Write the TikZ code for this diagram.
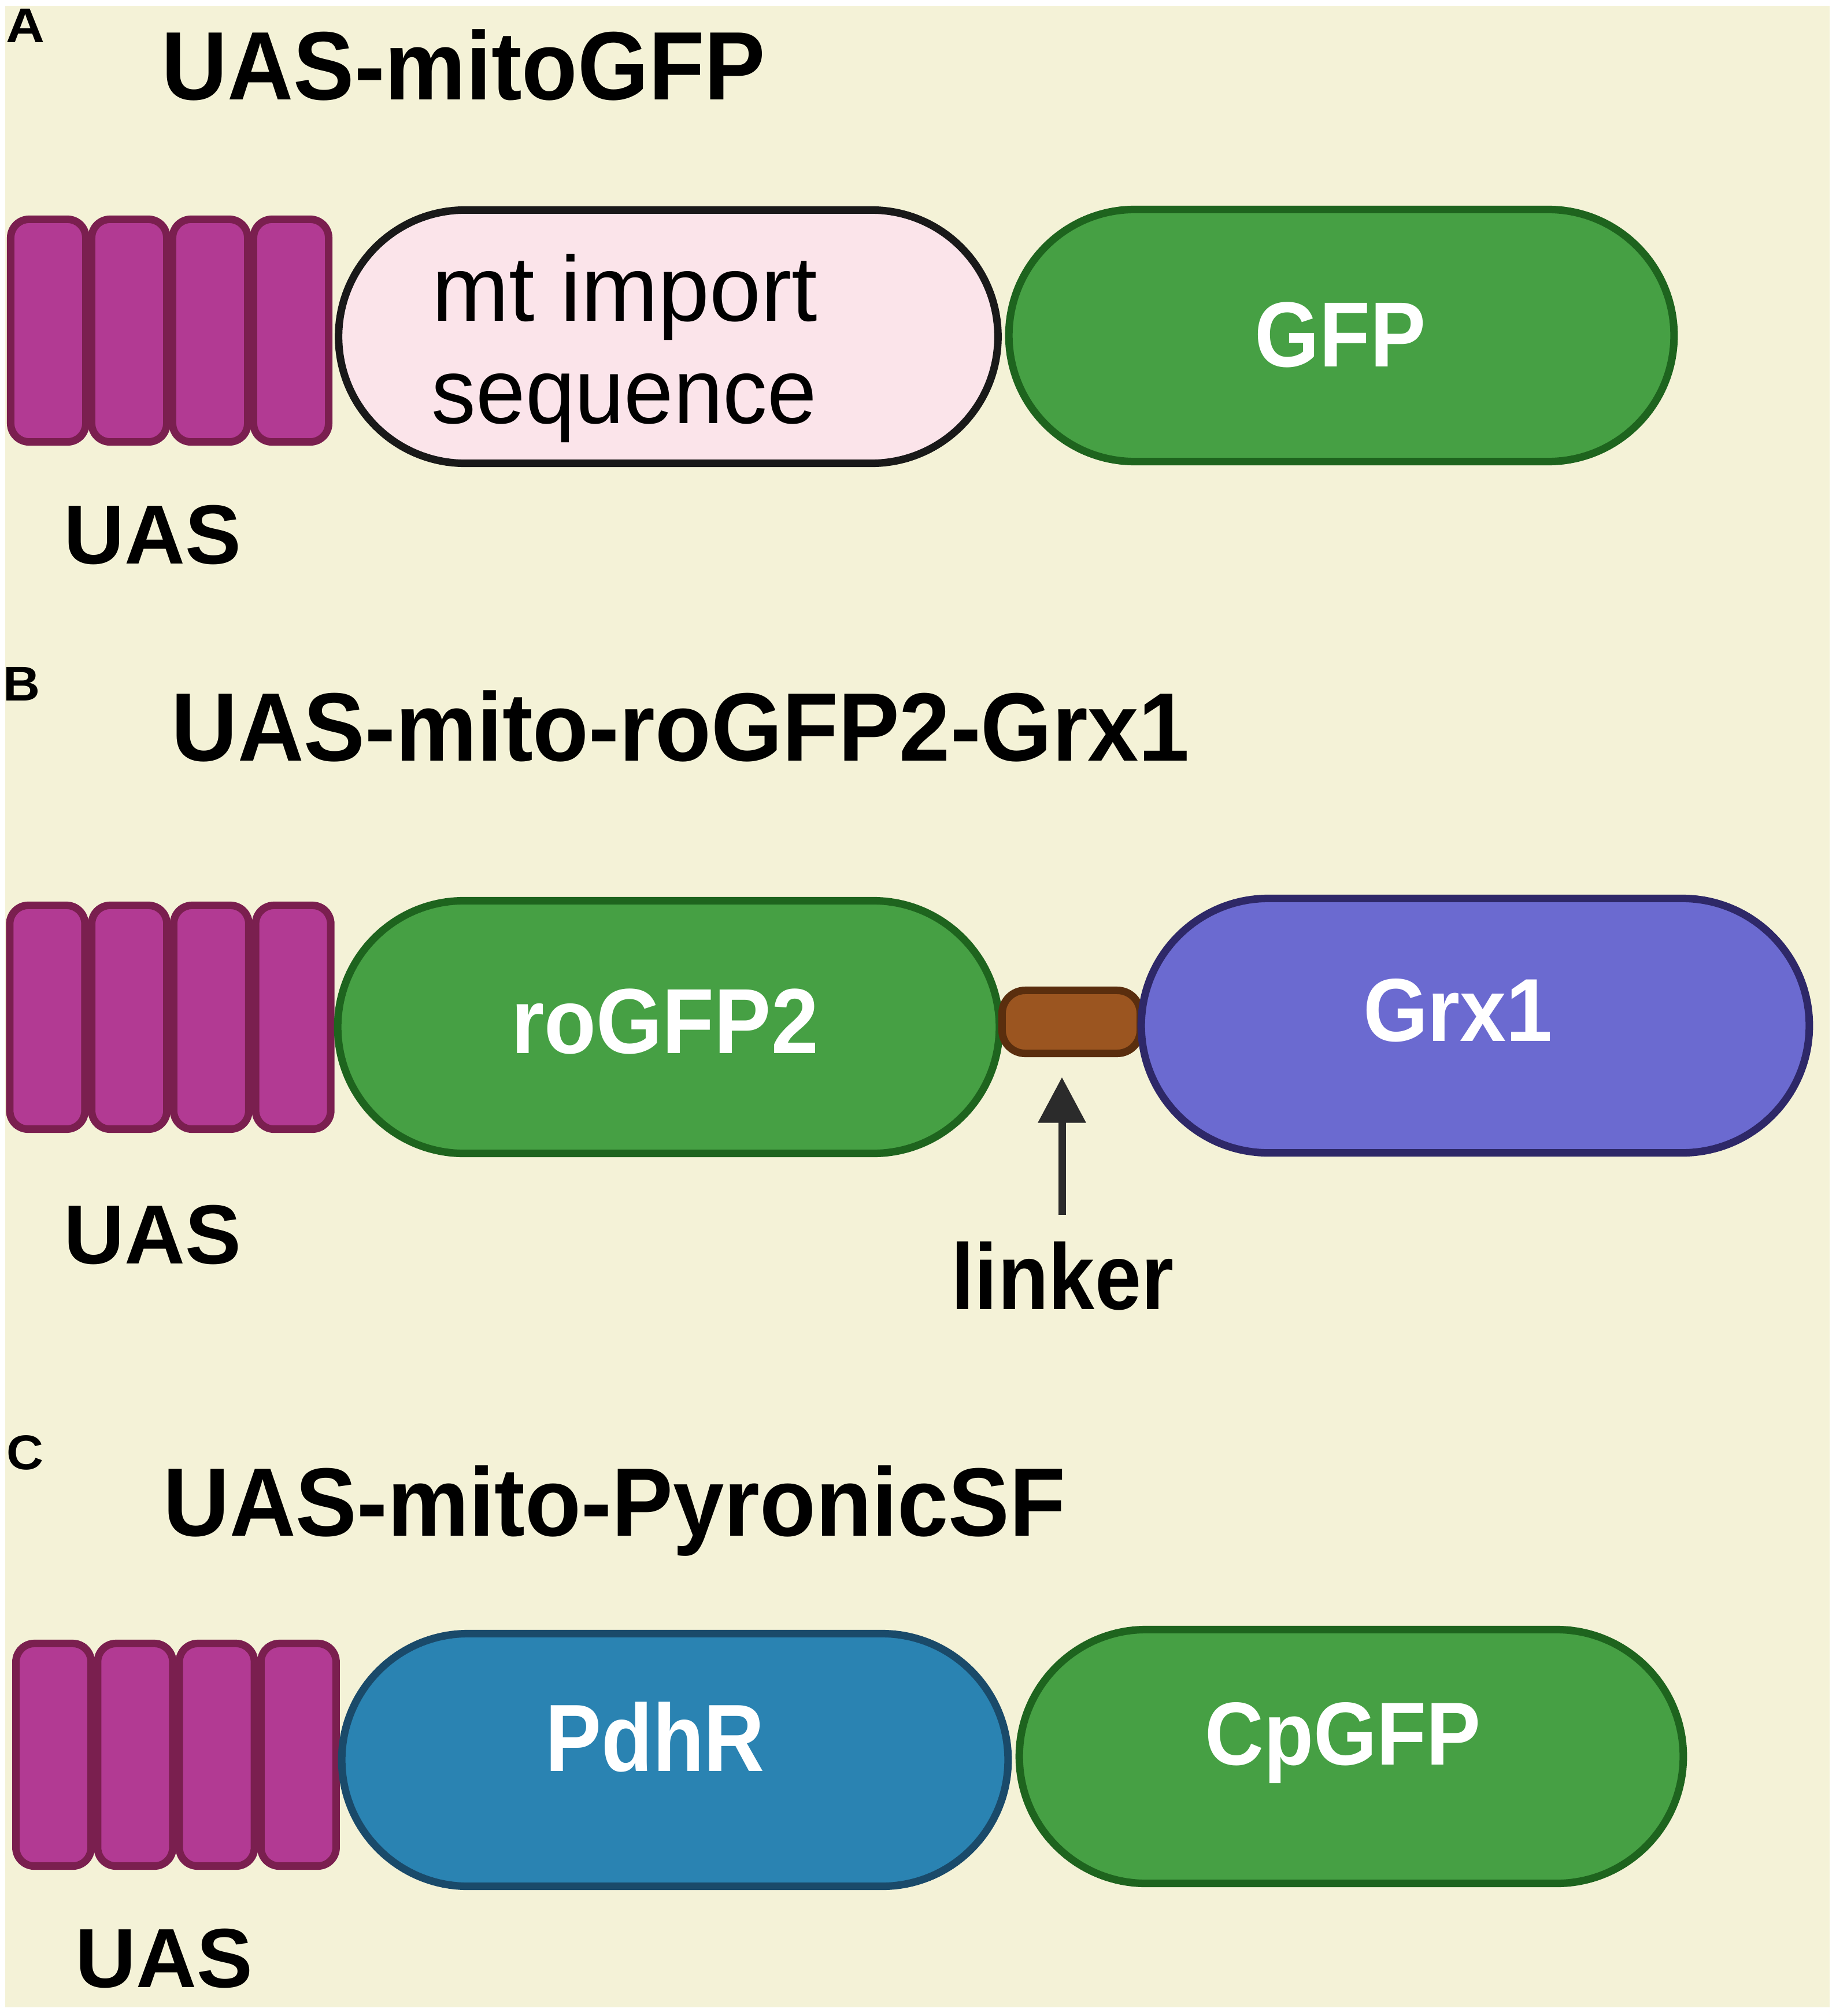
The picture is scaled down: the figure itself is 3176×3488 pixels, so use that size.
\documentclass[tikz,border=0pt]{standalone}
\usepackage{fontspec}
\setmainfont{Liberation Sans}
\usetikzlibrary{shapes.misc,arrows.meta}
\definecolor{cream}{HTML}{F4F2D7}
\definecolor{uasfill}{HTML}{B23A93}
\definecolor{uasline}{HTML}{7A1F4F}
\definecolor{pinkfill}{HTML}{FBE4EA}
\definecolor{gfill}{HTML}{46A044}
\definecolor{gline}{HTML}{1E641E}
\definecolor{pfill}{HTML}{6B6AD0}
\definecolor{pline}{HTML}{2E2868}
\definecolor{bfill}{HTML}{2A83B2}
\definecolor{bline}{HTML}{1A4A6A}
\definecolor{lfill}{HTML}{9B5520}
\definecolor{lline}{HTML}{5A2E0E}
\definecolor{arrowc}{HTML}{2B2B2B}
\newcommand{\myfs}[1]{\fontsize{#1}{#1}\selectfont}
\begin{document}
\begin{tikzpicture}[x=0.01cm,y=-0.01cm,
  uasblk/.style={draw=uasline, fill=uasfill, line width=3.7pt, rounded corners=0.32cm,
    minimum width=1.30cm, minimum height=3.85cm, inner sep=0pt},
  part/.style={rounded rectangle, line width=3.7pt, inner sep=0pt},
  ttl/.style={anchor=base west, inner sep=0pt, font=\myfs{47.8}\bfseries},
  panellbl/.style={anchor=base west, inner sep=0pt, font=\myfs{24}\bfseries},
  uaslbl/.style={anchor=base west, inner sep=0pt, font=\myfs{41.3}\bfseries},
  inlbl/.style={anchor=base, inner sep=0pt, text=white, font=\bfseries},
]
\path[use as bounding box, fill=white] (0,0) rectangle (3176,3488);
\fill[cream] (9,10) rectangle (3165,3473);

% ---------- Panel A ----------
\node[panellbl] (labA) at (10,74) {\scalebox{1.1}[1]{A}};
\node[ttl] (ttlA) at (279,173) {\scalebox{0.94}[1]{UAS-mitoGFP}};
\foreach \i in {0,...,3}
  \node[uasblk] (uasA\i) at ({83.5+140*\i},572) {};
\node[part, draw=black!90, fill=pinkfill, minimum width=11.40cm, minimum height=4.38cm] (mtA) at (1156,582.5) {};
\node[part, draw=gline, fill=gfill, minimum width=11.50cm, minimum height=4.36cm] (gfpA) at (2320.5,580.5) {};
\node[anchor=base, inner sep=0pt, font=\myfs{45.5}] (mtA1) at (1081,555) {mt import};
\node[anchor=base, inner sep=0pt, font=\myfs{45.5}] (mtA2) at (1080,732) {\scalebox{0.96}[1]{sequence}};
\node[inlbl, font=\myfs{45.5}\bfseries] (gfpAt) at (2318,634) {\scalebox{0.9}[1]{GFP}};
\node[uaslbl] (uasAt) at (110,975) {UAS};

% ---------- Panel B ----------
\node[panellbl] (labB) at (5,1212) {\scalebox{1.05}[1]{B}};
\node[ttl] (ttlB) at (296,1316) {\scalebox{0.943}[1]{UAS-mito-roGFP2-Grx1}};
\foreach \i in {0,...,3}
  \node[uasblk, minimum height=3.87cm] (uasB\i) at ({81.9+141.75*\i},1760) {};
\node[part, draw=gline, fill=gfill, minimum width=11.44cm, minimum height=4.37cm] (rogB) at (1156.5,1777) {};
\node[draw=lline, fill=lfill, line width=3.7pt, rounded corners=0.4cm, inner sep=0pt,
  minimum width=2.39cm, minimum height=1.09cm] (linkB) at (1853,1768) {};
\node[part, draw=pline, fill=pfill, minimum width=11.55cm, minimum height=4.40cm] (grxB) at (2552,1774.5) {};
\node[inlbl, font=\myfs{45.5}\bfseries] (rogBt) at (1150,1822) {\scalebox{0.92}[1]{roGFP2}};
\node[inlbl, font=\myfs{44}\bfseries] (grxBt) at (2522,1801) {\scalebox{0.93}[1]{Grx1}};
\coordinate (arrtail) at (1837,2102);
\draw[arrowc, line width=3.7pt, shorten >=0.345cm, -{Triangle[length=0.79cm,width=0.8cm]}]
  (arrtail) -- (arrtail |- linkB.south);
\node[anchor=base, inner sep=0pt, font=\myfs{46}\bfseries] (linkt) at (1838,2265) {\scalebox{0.89}[1]{linker}};
\node[uaslbl] (uasBt) at (110,2186) {UAS};

% ---------- Panel C ----------
\node[panellbl] (labC) at (11,2542) {\scalebox{1.05}[1]{C}};
\node[ttl] (ttlC) at (282,2657) {\scalebox{0.944}[1]{UAS-mito-PyronicSF}};
\foreach \i in {0,...,3}
  \node[uasblk] (uasC\i) at ({92.6+141.25*\i},3036) {};
\node[part, draw=bline, fill=bfill, minimum width=11.52cm, minimum height=4.37cm] (pdhC) at (1167.5,3045) {};
\node[part, draw=gline, fill=gfill, minimum width=11.48cm, minimum height=4.39cm] (cpC) at (2337.5,3039) {};
\node[inlbl, font=\myfs{47}\bfseries] (pdhCt) at (1133,3064) {\scalebox{0.88}[1]{PdhR}};
\node[inlbl, font=\myfs{44}\bfseries] (cpCt) at (2323,3053) {\scalebox{0.91}[1]{CpGFP}};
\node[uaslbl] (uasCt) at (130,3438) {UAS};
\end{tikzpicture}
\end{document}
